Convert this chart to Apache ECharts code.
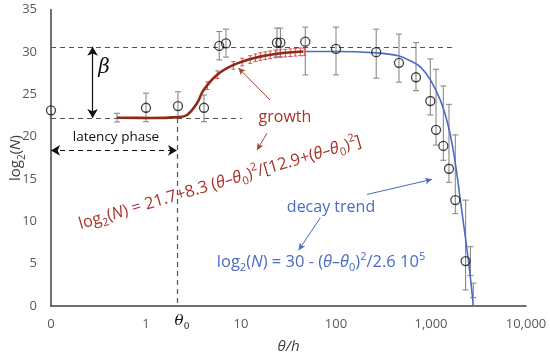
<!DOCTYPE html>
<html><head><meta charset="utf-8">
<script src="https://cdn.jsdelivr.net/npm/echarts@6/dist/echarts.min.js"></script>
<style>html,body{margin:0;padding:0;background:#fff}#c{width:550px;height:360px}</style>
</head><body><div id="c"></div>
<script>
// ---- axis ticks ----
const xTickValues = [0.1, 1, 10, 100, 1000, 10000];
const xTickLabels = ['0', '1', '10', '100', '1,000', '10,000'];
const yTicks = [0, 5, 10, 15, 20, 25, 30, 35];

// ---- measured points (theta in h, log2 N) ----
const pointTheta = [0.1, 1.0, 2.17, 4.08, 5.9, 6.95, 23.9, 26, 47.5, 100, 265, 460, 695, 984, 1130, 1349, 1546, 1803, 2313];
const pointLogN  = [23.1, 23.4, 23.6, 23.4, 30.7, 31.0, 31.1, 31.1, 31.2, 30.35, 29.96, 28.7, 27.0, 24.2, 20.8, 18.9, 16.2, 12.5, 5.3];

// ---- error bars (gray) ----
const barTheta = [0.495, 1.0, 2.17, 4.08, 5.9, 6.95, 23.9, 26, 47.5, 100, 265, 460, 695, 984, 1130, 1349, 1546, 1803, 2313, 2600, 2790];
const barLow   = [21.72, 21.76, 22.16, 21.76, 29.05, 29.38, 29.4, 29.4, 27.28, 27.28, 26.89, 26.42, 25.42, 22.55, 19.0, 17.2, 14.6, 10.9, 1.9, 3.6, 1.0];
const barHigh  = [22.75, 25.12, 25.3, 24.9, 32.4, 32.68, 32.8, 32.8, 32.92, 32.92, 32.68, 32.09, 31.1, 29.17, 27.95, 25.98, 23.8, 20.2, 12.5, 7.0, 2.7];

// ---- growth fit curve ----
const growthTheta = [0.495, 1.11, 2.17, 2.70, 3.44, 4.04, 5.58, 8.36, 13.5, 23.9, 45.3];
const growthLogN  = [22.23, 22.2, 22.3, 22.55, 23.93, 25.5, 27.28, 28.46, 29.25, 29.77, 30.04];

// ---- growth curve small red error bars ----
const growthBarTheta = [4.42, 5.63, 8.3, 10.3, 12.5, 14.2, 16.0, 18.0, 20.3, 23.0, 25.9, 29.3, 33.0, 37.3, 42.1, 46.4];
const growthBarLogN  = [26.0, 27.3, 28.4, 28.8, 29.1, 29.3, 29.45, 29.55, 29.65, 29.75, 29.8, 29.85, 29.9, 29.95, 30.0, 30.0];
const growthBarHalf  = [0.45, 0.45, 0.45, 0.45, 0.45, 0.45, 0.45, 0.45, 0.45, 0.45, 0.45, 0.45, 0.45, 0.45, 0.45, 0.45];

// ---- decay fit curve ----
const decayTheta = [47.5, 100, 265, 453, 606, 772, 985, 1254, 1486, 1676, 1848, 2036, 2245, 2473, 2655, 2789];
const decayLogN  = [30.05, 30.05, 29.88, 29.53, 28.94, 28.23, 26.7, 24.3, 21.7, 19.0, 16.05, 12.5, 9.0, 5.4, 2.4, 0.0];

// ---- annotation anchors (data space) ----
const betaTop = 30.6, betaBottom = 22.2, theta0 = 2.12, latencyY = 18.37, betaX = 0.274;

const zip = (a, b) => a.map((v, i) => [v, b[i]]);
const FONT = 'Open Sans';
const RED = '#A8322A';
const BLUE = '#4A6BC6';
const AXIS_TEXT = '#404040';

const chart = echarts.init(document.getElementById('c'), null, {renderer: 'canvas'});

function errRender(color, capHalf, width) {
  return function (params, api) {
    const x = api.value(0), lo = api.value(1), hi = api.value(2);
    const p1 = api.coord([x, hi]), p2 = api.coord([x, lo]);
    const st = {stroke: color, lineWidth: width};
    return {type: 'group', children: [
      {type: 'line', shape: {x1: p1[0], y1: p1[1], x2: p2[0], y2: p2[1]}, style: st},
      {type: 'line', shape: {x1: p1[0] - capHalf, y1: p1[1], x2: p1[0] + capHalf, y2: p1[1]}, style: st},
      {type: 'line', shape: {x1: p2[0] - capHalf, y1: p2[1], x2: p2[0] + capHalf, y2: p2[1]}, style: st}
    ]};
  };
}

const dashStyle = {type: [5, 4], color: '#555', width: 1.2};

function eqRich(color, size, subSize) {
  return {
    n: {fontFamily: FONT, fontSize: size, fill: color, lineHeight: 22},
    i: {fontFamily: FONT, fontSize: size, fontStyle: 'italic', fill: color, lineHeight: 22},
    s: {fontFamily: FONT, fontSize: subSize, fill: color, lineHeight: 22, verticalAlign: 'bottom'},
    p: {fontFamily: FONT, fontSize: subSize, fill: color, lineHeight: 22, verticalAlign: 'top'}
  };
}

const option = {
  animation: false,
  backgroundColor: '#fff',
  grid: {left: 51, right: 24, top: 9.5, bottom: 54, containLabel: false, outerBoundsMode: 'none'},
  xAxis: {
    type: 'log', logBase: 10, min: 0.1, max: 10000, interval: 1,
    name: 'θ/h', nameLocation: 'middle', nameGap: 33,
    nameTextStyle: {fontFamily: FONT, fontSize: 15, fontStyle: 'italic', color: AXIS_TEXT},
    axisLine: {show: true, onZero: false, lineStyle: {color: '#404040', width: 1.5}},
    axisTick: {show: false},
    splitLine: {show: false},
    axisLabel: {
      fontFamily: FONT, fontSize: 13, color: '#595959', margin: 12,
      formatter: function (v) {
        let best = 0;
        xTickValues.forEach((t, i) => { if (Math.abs(Math.log10(t) - Math.log10(v)) < Math.abs(Math.log10(xTickValues[best]) - Math.log10(v))) best = i; });
        return xTickLabels[best];
      }
    }
  },
  yAxis: {
    type: 'value', min: yTicks[0], max: yTicks[yTicks.length - 1], interval: 5,
    axisLine: {show: true, lineStyle: {color: '#404040', width: 1.5}},
    axisTick: {show: false},
    splitLine: {show: false},
    axisLabel: {fontFamily: FONT, fontSize: 13, color: '#595959', margin: 14}
  },
  series: [
    {
      type: 'custom', name: 'errbars', renderItem: errRender('#8a8a8a', 3, 1.1),
      data: barTheta.map((t, i) => [t, barLow[i], barHigh[i]]), z: 2,
      encode: {x: 0, y: [1, 2]}
    },
    {
      type: 'custom', name: 'growthbars', renderItem: errRender('#d4505a', 2, 1),
      data: growthBarTheta.map((t, i) => [t, growthBarLogN[i] - growthBarHalf[i], growthBarLogN[i] + growthBarHalf[i]]), z: 3,
      encode: {x: 0, y: [1, 2]}
    },
    {
      type: 'line', name: 'decay', data: zip(decayTheta, decayLogN), smooth: 0.4,
      showSymbol: false, lineStyle: {color: BLUE, width: 1.6}, z: 4
    },
    {
      type: 'line', name: 'growth', data: zip(growthTheta, growthLogN), smooth: 0.4,
      showSymbol: false, lineStyle: {color: '#8E2A16', width: 2.6}, z: 5
    },
    {
      type: 'scatter', name: 'data', data: zip(pointTheta, pointLogN),
      symbol: 'circle', symbolSize: 9,
      itemStyle: {color: 'rgba(255,255,255,0)', borderColor: '#111', borderWidth: 1.3}, z: 6,
      markLine: {
        silent: true, symbol: ['none', 'none'], label: {show: false},
        data: [
          [{coord: [0.1, betaTop], lineStyle: dashStyle}, {coord: [1718, betaTop]}],
          [{coord: [0.1, betaBottom], lineStyle: dashStyle}, {coord: [10.2, betaBottom]}],
          [{coord: [theta0, betaBottom], lineStyle: dashStyle}, {coord: [theta0, 0]}],
          [{coord: [0.1, latencyY], symbol: 'arrow', symbolSize: [8, 9], lineStyle: {type: [5, 4], color: '#111', width: 1.2}},
           {coord: [theta0, latencyY], symbol: 'arrow', symbolSize: [8, 9]}],
          [{coord: [betaX, betaTop], symbol: 'arrow', symbolSize: [8, 9], lineStyle: {type: 'solid', color: '#111', width: 1.2}},
           {coord: [betaX, betaBottom], symbol: 'arrow', symbolSize: [8, 9]}],
          [{coord: [20.3, 24.3], symbol: 'none', lineStyle: {type: 'solid', color: '#9A4A30', width: 1}},
           {coord: [9.38, 28.1], symbol: 'arrow', symbolSize: [5, 7]}],
          [{coord: [18.8, 20.4], symbol: 'none', lineStyle: {type: 'solid', color: '#9A4A30', width: 1}},
           {coord: [14.7, 18.4], symbol: 'arrow', symbolSize: [5, 7]}],
          [{coord: [212, 13.17], symbol: 'none', lineStyle: {type: 'solid', color: BLUE, width: 1}},
           {coord: [1026, 14.95], symbol: 'arrow', symbolSize: [5, 7]}],
          [{coord: [68.4, 10.4], symbol: 'none', lineStyle: {type: 'solid', color: BLUE, width: 1}},
           {coord: [40.4, 6.59], symbol: 'arrow', symbolSize: [5, 7]}]
        ]
      }
    }
  ],
  graphic: [
    {type: 'text', x: 16, y: 158, rotation: Math.PI / 2, style: {
      text: '{n|log}{s|2}{n|(}{i|N}{n|)}', align: 'center', verticalAlign: 'middle',
      rich: eqRich(AXIS_TEXT, 15, 10)}},
    {type: 'text', x: 104, y: 68, style: {text: 'β', font: 'italic 20px "DejaVu Serif"', fill: '#111', align: 'center', verticalAlign: 'middle'}},
    {type: 'text', x: 116, y: 137, style: {text: 'latency phase', font: '13.5px "' + FONT + '"', fill: '#111', align: 'center', verticalAlign: 'middle'}},
    {type: 'text', x: 182, y: 321, style: {
      text: '{t|θ}{s|0}', align: 'center', verticalAlign: 'middle',
      rich: {t: {font: 'italic 15px "DejaVu Serif"', fill: '#111', lineHeight: 20},
             s: {font: '9px "DejaVu Serif"', fill: '#111', lineHeight: 20, verticalAlign: 'bottom'}}}},
    {type: 'text', x: 285, y: 117, style: {text: 'growth', font: '16px "' + FONT + '"', fill: RED, align: 'center', verticalAlign: 'middle'}},
    {type: 'text', x: 331, y: 207, style: {text: 'decay trend', font: '16px "' + FONT + '"', fill: BLUE, align: 'center', verticalAlign: 'middle'}},
    {type: 'text', x: 220, y: 183, rotation: 16.5 * Math.PI / 180, style: {
      text: '{n|log}{s|2}{n|(}{i|N}{n|) = 21.7+8.3 (}{i|θ–θ}{s|0}{n|)}{p|2}{n|/[12.9+(}{i|θ–θ}{s|0}{n|)}{p|2}{n|]}',
      align: 'center', verticalAlign: 'middle', rich: eqRich(RED, 16.5, 11)}},
    {type: 'text', x: 321, y: 262, style: {
      text: '{n|log}{s|2}{n|(}{i|N}{n|) = 30 - (}{i|θ–θ}{s|0}{n|)}{p|2}{n|/2.6 10}{p|5}',
      align: 'center', verticalAlign: 'middle', rich: eqRich(BLUE, 16.5, 11)}}
  ]
};
chart.setOption(option);
</script></body></html>
